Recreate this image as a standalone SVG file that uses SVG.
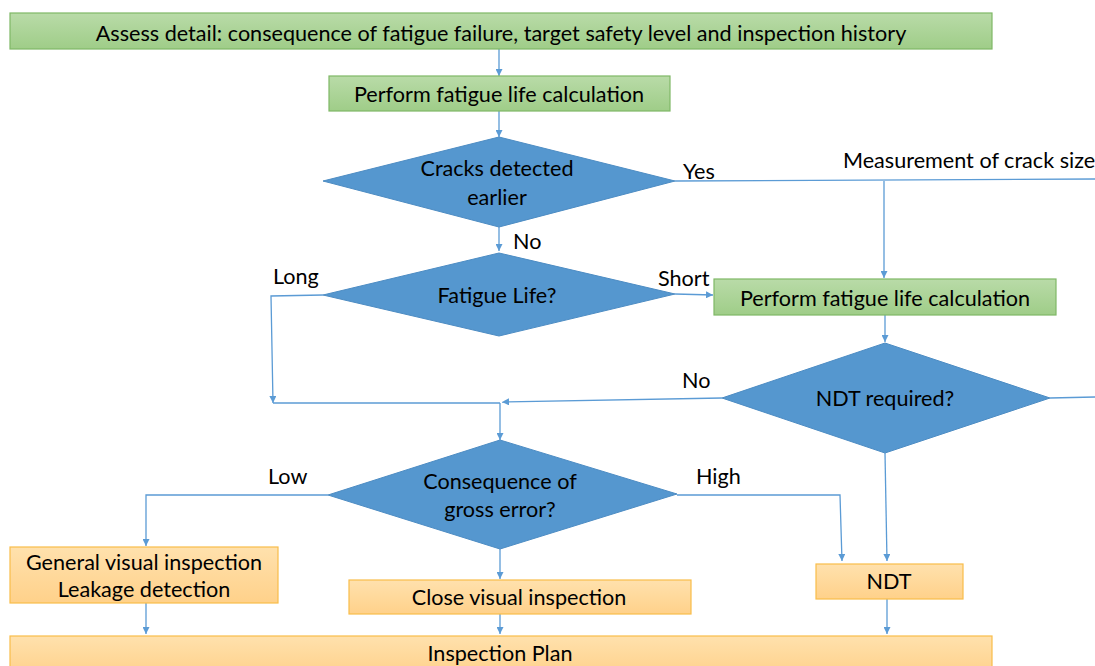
<svg xmlns="http://www.w3.org/2000/svg" width="1095" height="666" viewBox="0 0 1095 666">
  <defs>
    <linearGradient id="gGreen" x1="0" y1="0" x2="0" y2="1">
      <stop offset="0" stop-color="#b9dba8"/>
      <stop offset="1" stop-color="#9fcd88"/>
    </linearGradient>
    <linearGradient id="gOrange" x1="0" y1="0" x2="0" y2="1">
      <stop offset="0" stop-color="#ffe1ad"/>
      <stop offset="1" stop-color="#ffd18a"/>
    </linearGradient>
    <marker id="arrow" viewBox="0 0 10 10" refX="10" refY="5" markerWidth="7" markerHeight="7" markerUnits="userSpaceOnUse" orient="auto">
      <path d="M0,0 L10,5 L0,10 z" fill="#5b9bd5"/>
    </marker>
    <style>
      .green { fill: url(#gGreen); stroke: #7fb866; stroke-width: 1.2; }
      .orange { fill: url(#gOrange); stroke: #f9bd4a; stroke-width: 1.2; }
      .dia { fill: #5597cf; stroke: #4d8cc3; stroke-width: 1; }
      .t { font-family: Lato, "Liberation Sans", sans-serif; font-size: 21.6px; fill: #000; }
      .c { text-anchor: middle; }
      .ln { fill: none; stroke: #5b9bd5; stroke-width: 1.3; }
      .ar { marker-end: url(#arrow); }
    </style>
  </defs>
  <rect width="1095" height="666" fill="#ffffff"/>

  <!-- connectors -->
  <g id="connectors">
    <path class="ln ar" d="M499,49 V76"/>
    <path class="ln ar" d="M499,111 V137"/>
    <path class="ln" d="M675,181 L1095,179"/>
    <path class="ln ar" d="M884,181 V278"/>
    <path class="ln ar" d="M499,227 V251"/>
    <path class="ln ar" d="M675,294 L713,295"/>
    <path class="ln ar" d="M323,295 L271,296 L273,403"/>
    <path class="ln" d="M273,403 H500"/>
    <path class="ln ar" d="M722,398 L502,402"/>
    <path class="ln ar" d="M500,403 V440"/>
    <path class="ln ar" d="M885,315 V342"/>
    <path class="ln" d="M1050,398 L1095,397"/>
    <path class="ln ar" d="M885,453 L887,561"/>
    <path class="ln ar" d="M328,495 H146 V546"/>
    <path class="ln ar" d="M677,495 H840 L842,561"/>
    <path class="ln ar" d="M500,549 V579"/>
    <path class="ln ar" d="M146,603 V634"/>
    <path class="ln ar" d="M500,614 V634"/>
    <path class="ln ar" d="M887,599 V634"/>
  </g>

  <!-- connector labels -->
  <g id="labels">
    <text class="t" x="683" y="179">Yes</text>
    <text class="t" x="843" y="168">Measurement of crack size</text>
    <text class="t" x="513" y="249">No</text>
    <text class="t" x="273" y="284">Long</text>
    <text class="t" x="658" y="286">Short</text>
    <text class="t" x="682" y="388">No</text>
    <text class="t" x="268" y="484">Low</text>
    <text class="t" x="696" y="484">High</text>
  </g>

  <g id="assess">
    <rect class="green" x="10" y="13" width="982" height="36"/>
    <text class="t c" x="501" y="41">Assess detail: consequence of fatigue failure, target safety level and inspection history</text>
  </g>

  <g id="calc1">
    <rect class="green" x="329" y="76" width="341" height="35"/>
    <text class="t c" x="499" y="102">Perform fatigue life calculation</text>
  </g>

  <g id="cracks">
    <polygon class="dia" points="499,137 675,181 499,227 323,181"/>
    <text class="t c" x="497" y="176">Cracks detected</text>
    <text class="t c" x="497" y="205">earlier</text>
  </g>

  <g id="fatigue-life">
    <polygon class="dia" points="499,253 675,294 499,336 323,295"/>
    <text class="t c" x="497" y="303">Fatigue Life?</text>
  </g>

  <g id="calc2">
    <rect class="green" x="714" y="279" width="342" height="36"/>
    <text class="t c" x="885" y="306">Perform fatigue life calculation</text>
  </g>

  <g id="ndt-required">
    <polygon class="dia" points="885,343 1050,398 885,453 722,398"/>
    <text class="t c" x="885" y="406">NDT required?</text>
  </g>

  <g id="gross-error">
    <polygon class="dia" points="500,440 677,494 500,549 328,495"/>
    <text class="t c" x="500" y="489">Consequence of</text>
    <text class="t c" x="500" y="517">gross error?</text>
  </g>

  <g id="general-visual">
    <rect class="orange" x="10" y="547" width="268" height="56"/>
    <text class="t c" x="144" y="570">General visual inspection</text>
    <text class="t c" x="144" y="597">Leakage detection</text>
  </g>

  <g id="close-visual">
    <rect class="orange" x="349" y="580" width="342" height="34"/>
    <text class="t c" x="519" y="605">Close visual inspection</text>
  </g>

  <g id="ndt">
    <rect class="orange" x="816" y="564" width="147" height="35"/>
    <text class="t c" x="889" y="589">NDT</text>
  </g>

  <g id="inspection-plan">
    <rect class="orange" x="10" y="636" width="982" height="40"/>
    <text class="t c" x="500" y="661">Inspection Plan</text>
  </g>
</svg>
